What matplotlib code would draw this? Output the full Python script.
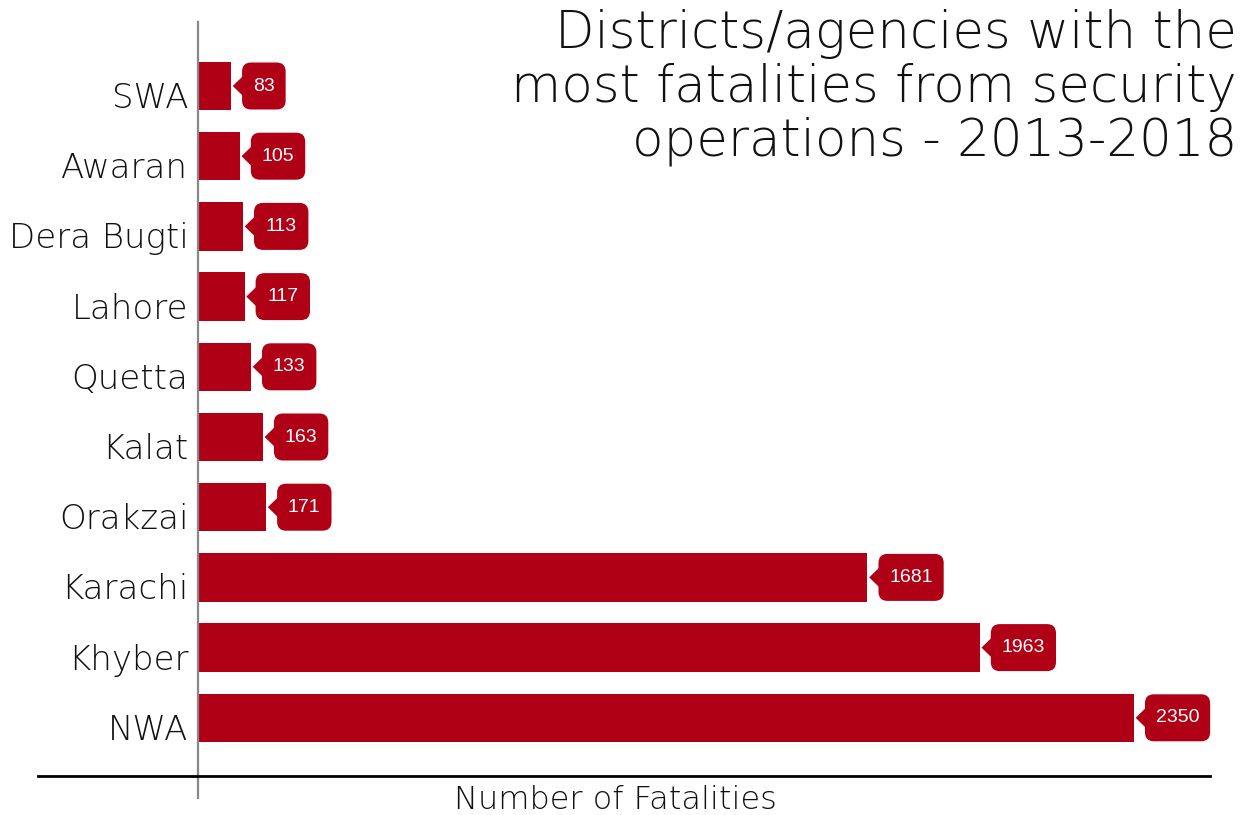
import matplotlib.pyplot as plt
import matplotlib.transforms as mtransforms
from matplotlib.patches import Polygon, FancyBboxPatch
from matplotlib.lines import Line2D

# fatalities from security operations 2013-2018, top to bottom
districts = ['SWA', 'Awaran', 'Dera Bugti', 'Lahore', 'Quetta', 'Kalat',
             'Orakzai', 'Karachi', 'Khyber', 'NWA']
fatalities = [83, 105, 113, 117, 133, 163, 171, 1681, 1963, 2350]

red = '#AF0015'
font = 'DejaVu Sans'

W, H = 1249, 815
fig = plt.figure(figsize=(W/100, H/100), dpi=100)
ax = fig.add_axes([198/W, 1-776/H, (1210-198)/W, (776-22)/H])

pos = list(range(len(districts)))
ax.barh(pos, fatalities, height=0.69, color=red)
ax.set_xlim(0, 2541)
ax.set_ylim((776-86)/70.2, -64/70.2)

ax.set_yticks(pos)
ax.set_yticklabels(districts, fontsize=24.5, family=font, fontweight='light', color='#111111')
ax.tick_params(axis='y', length=0, pad=7)
# names sit a little below the bar centres
shift = mtransforms.ScaledTranslation(0, -9/100, fig.dpi_scale_trans)
for lab in ax.get_yticklabels():
    lab.set_transform(lab.get_transform() + shift)
ax.set_xticks([])
for s in ax.spines.values():
    s.set_visible(False)

# value callouts: rounded box (sizes in pixels) with a pointer towards the bar end
for i, v in zip(pos, fatalities):
    tr = mtransforms.Affine2D() + mtransforms.ScaledTranslation(v, i, ax.transData)
    w = 10.8*len(str(v)) + 22
    ax.add_patch(FancyBboxPatch((11, -23.5), w, 47, boxstyle='round,pad=0,rounding_size=9',
                                fc=red, ec='none', transform=tr, clip_on=False))
    ax.add_patch(Polygon([(1.7, 0), (13, 11), (13, -11)], closed=True, fc=red, ec='none',
                         transform=tr, clip_on=False))
    ax.text(11 + w/2, 0, str(v), transform=tr, ha='center', va='center',
            fontsize=14, color='white', family='Liberation Sans')

# axis lines
fig.add_artist(Line2D([198/W, 198/W], [1-22/H, 1-798/H], color='#888888', lw=1.6,
                      transform=fig.transFigure))
fig.add_artist(Line2D([38/W, 1210/W], [1-776/H, 1-776/H], color='black', lw=2,
                      transform=fig.transFigure))

fig.text(615/W, 1-800/H, 'Number of Fatalities', ha='center', va='center',
         fontsize=23, family=font, fontweight='light', color='#111111')

fig.text(1237/W, 1-9/H, 'Districts/agencies with the\nmost fatalities from security\noperations - 2013-2018',
         ha='right', va='top', fontsize=37, family=font, fontweight='light',
         color='#111111', linespacing=1.1)

fig.savefig('out.png', dpi=100)
